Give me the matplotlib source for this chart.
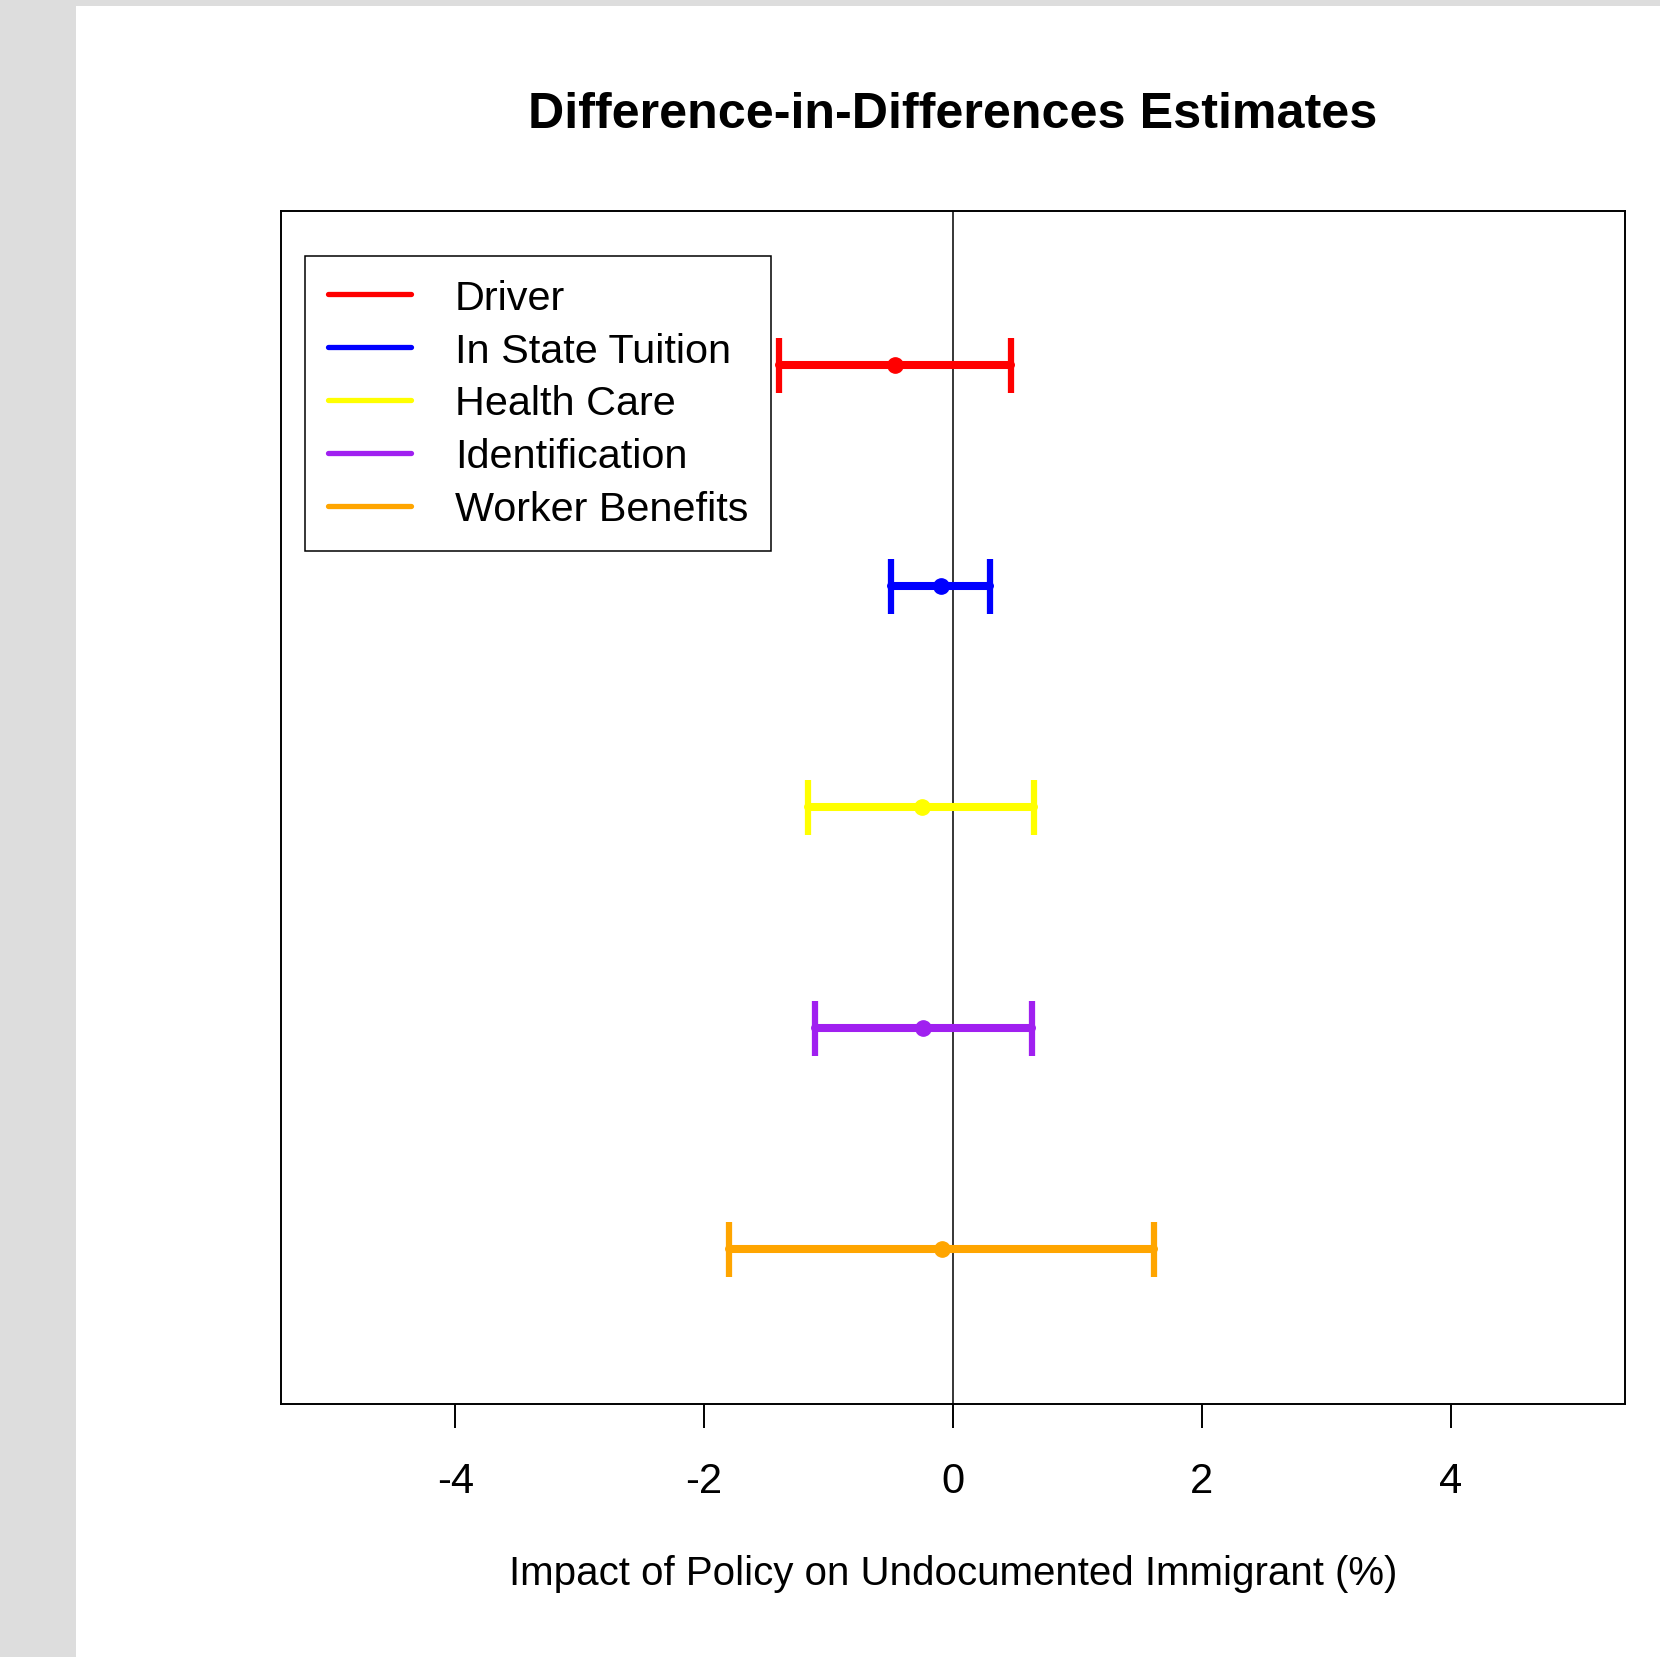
import matplotlib
matplotlib.use('Agg')
import matplotlib.pyplot as plt
from matplotlib.lines import Line2D
from matplotlib.patches import Rectangle
import numpy as np

plt.rcParams['font.family'] = ['Liberation Sans', 'DejaVu Sans']

# --- data ---
policies = ['Driver', 'In State Tuition', 'Health Care', 'Identification', 'Worker Benefits']
estimates = [-0.47, -0.10, -0.25, -0.24, -0.085]
lower = [-1.40, -0.50, -1.165, -1.11, -1.80]
upper = [0.465, 0.295, 0.65, 0.635, 1.615]
colors = ['#FF0000', '#0000FF', '#FFFF00', '#A020F0', '#FFA500']
ypos = [5, 4, 3, 2, 1]
xticks = [-4, -2, 0, 2, 4]

fig = plt.figure(figsize=(16.6, 16.58), dpi=100, facecolor='#dddddd')
# white page area (gray strip on the left and top like the screenshot)
fig.patches.append(Rectangle((76 / 1660, 0), 1, 1 - 6.5 / 1658,
                             transform=fig.transFigure, facecolor='white',
                             edgecolor='none', zorder=-1))

ax = fig.add_axes([281.2 / 1660, 1 - 1405 / 1658, 1343.6 / 1660, 1193.5 / 1658])

# zero reference line
ax.axvline(0, color='black', lw=1.1, zorder=1)

for est, lo, hi, y, c in zip(estimates, lower, upper, ypos, colors):
    eb = ax.errorbar(est, y, xerr=[[est - lo], [hi - est]], fmt='o', color=c,
                     ms=11, elinewidth=5.8, capsize=19.8, capthick=4.5, zorder=2)
    for lc in eb[2]:
        lc.set_capstyle('round')

ax.set_xlim(-5.4, 5.4)
ax.set_ylim(0.3, 5.7)
ax.set_yticks([])
ax.set_xticks(xticks)
ax.set_xticklabels([str(t) for t in xticks])
ax.tick_params(axis='x', direction='out', length=17, width=1.4, labelsize=30, pad=24)
for sp in ax.spines.values():
    sp.set_linewidth(1.4)

ax.set_title('Difference-in-Differences Estimates', fontsize=36.2, fontweight='bold', pad=60)
ax.set_xlabel('Impact of Policy on Undocumented Immigrant (%)', fontsize=29, labelpad=38)

handles = [Line2D([], [], color=c, lw=3.8, solid_capstyle='round') for c in colors]
leg = ax.legend(handles, policies, loc='upper left', bbox_to_anchor=(0.0177, 0.962),
                borderaxespad=0, fontsize=29.8, handlelength=2.0, handletextpad=1.07,
                borderpad=0.55, labelspacing=0.36, fancybox=False, framealpha=1,
                edgecolor='black')
leg.get_frame().set_linewidth(1.1)

fig.savefig('out.png', dpi=100, facecolor=fig.get_facecolor())
